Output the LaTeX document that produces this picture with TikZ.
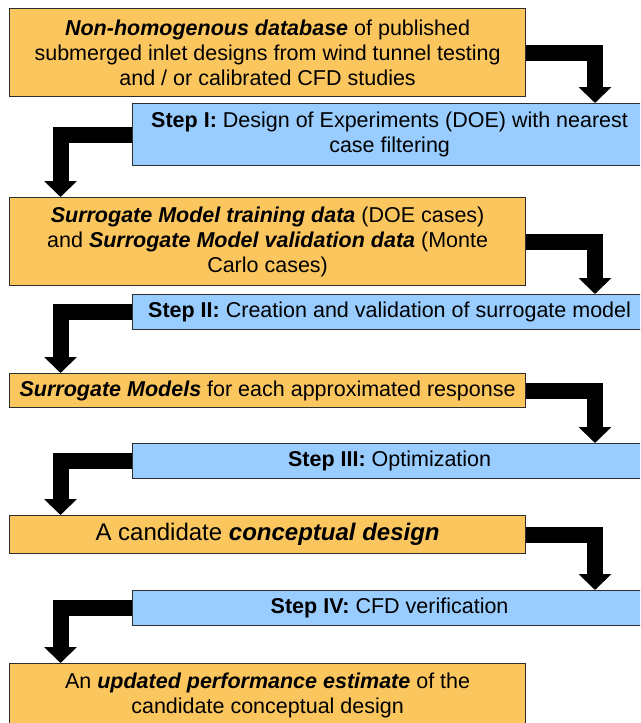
\documentclass[tikz,border=0pt]{standalone}
\usepackage{fontspec}
\setmainfont{Liberation Sans}
\usetikzlibrary{arrows.meta}
\definecolor{boxorange}{RGB}{252,198,94}
\definecolor{stepblue}{RGB}{153,204,255}
\definecolor{edgegray}{RGB}{45,45,45}
\newcommand{\bi}[1]{\textbf{\textit{#1}}}
\begin{document}
\begin{tikzpicture}[x=1pt,y=-1pt,
  obox/.style={draw=edgegray, line width=1.2pt, fill=boxorange, minimum width=516pt,
    align=center, inner sep=0pt, anchor=north west, font=\fontsize{21.5}{25}\selectfont},
  sbox/.style={draw=edgegray, line width=1.2pt, fill=stepblue, minimum width=514pt,
    align=center, inner sep=0pt, anchor=north west, font=\fontsize{21.5}{25}\selectfont},
  flow/.style={line width=16pt, line join=miter, draw=black,
    -{Triangle[width=32pt,length=16pt]}}]
\clip (0,0) rectangle (640,723);
\fill[white] (0,0) rectangle (640,723);
\coordinate (xr) at (595,0);
\coordinate (xl) at (60.5,0);

\node[obox, minimum height=88pt] (b1) at (9,8)
  {\bi{Non-homogenous database} of published\\
   submerged inlet designs from wind tunnel testing\\
   and / or calibrated CFD studies};
\node[sbox, minimum height=62pt] (s1) at (132,103)
  {\textbf{Step I:} Design of Experiments (DOE) with nearest\\ case filtering};
\node[obox, minimum height=88pt] (b2) at (9,197)
  {\bi{Surrogate Model training data} (DOE cases)\\
   and \bi{Surrogate Model validation data} (Monte\\
   Carlo cases)};
\node[sbox, minimum height=35pt] (s2) at (132,294)
  {\textbf{Step II:} Creation and validation of surrogate model};
\node[obox, minimum height=34pt] (b3) at (9,373)
  {\bi{Surrogate Models} for each approximated response};
\node[sbox, minimum height=35pt] (s3) at (132,443)
  {\textbf{Step III:} Optimization};
\node[obox, minimum height=38pt, font=\fontsize{24}{28}\selectfont] (b4) at (9,515)
  {A candidate \bi{conceptual design}};
\node[sbox, minimum height=35pt] (s4) at (132,590)
  {\textbf{Step IV:} CFD verification};
\node[obox, minimum height=64pt] (b5) at (9,663)
  {An \bi{updated performance estimate} of the\\ candidate conceptual design};

\draw[flow] (b1.east) -| (s1.north -| xr);
\draw[flow] (s1.west) -| (b2.north -| xl);
\draw[flow] (b2.east) -| (s2.north -| xr);
\draw[flow] (s2.west) -| (b3.north -| xl);
\draw[flow] (b3.east) -| (s3.north -| xr);
\draw[flow] (s3.west) -| (b4.north -| xl);
\draw[flow] (b4.east) -| (s4.north -| xr);
\draw[flow] (s4.west) -| (b5.north -| xl);
\end{tikzpicture}
\end{document}
